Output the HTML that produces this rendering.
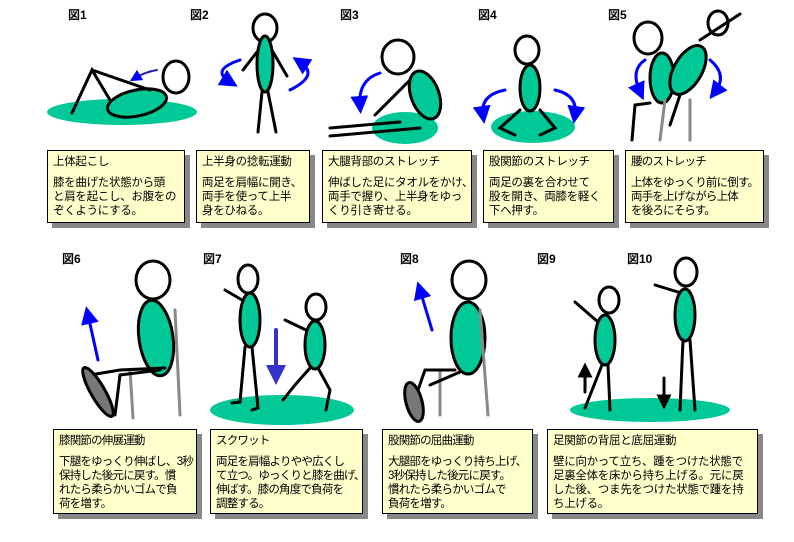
<!DOCTYPE html>
<html><head><meta charset="utf-8"><style>
body{margin:0;background:#fff;width:794px;height:542px;overflow:hidden;position:relative;font-family:"Liberation Sans","Noto Sans CJK JP",sans-serif}
.b{position:absolute;background:#ffffcc;border:1px solid #000;box-shadow:5px 5px 0 #888;font-size:11.5px;line-height:14px;color:#000;padding:4px 5px;box-sizing:border-box;white-space:nowrap;letter-spacing:-0.3px;overflow:hidden}
.b .t{margin-bottom:7px}
.n{letter-spacing:-0.8px}
.l{position:absolute;font-size:12px;font-weight:bold}
svg{position:absolute;left:0;top:0}
</style></head><body>
<svg width="794" height="542" viewBox="0 0 794 542" fill="none" stroke="#000" stroke-width="3" stroke-linecap="round">
<defs><marker id="a" markerWidth="6" markerHeight="6" refX="3" refY="3" orient="auto"><path d="M0,0L6,3L0,6z" fill="#00f" stroke="none"/></marker>
<marker id="a2" markerWidth="5" markerHeight="5" refX="2.5" refY="2.5" orient="auto"><path d="M0,0L5,2.5L0,5z" fill="#33c" stroke="none"/></marker>
<marker id="k" markerWidth="5" markerHeight="5" refX="2.5" refY="2.5" orient="auto"><path d="M0,0L5,2.5L0,5z" fill="#000" stroke="none"/></marker></defs>
<g fill="#00c896">
<ellipse cx="122" cy="112" rx="75" ry="13" stroke="none"/>
<ellipse cx="137" cy="103" rx="30" ry="13" transform="rotate(-12 137 103)"/>
<ellipse cx="176" cy="77" rx="13" ry="16" fill="#fff"/>
<path d="M72,113L92,70L110,100M92,70L150,90" fill="none"/>
<path d="M157,70Q145,72 135,78" stroke="#22a" stroke-width="2" marker-end="url(#a)" fill="none"/>
<ellipse cx="265" cy="28" rx="12" ry="14" fill="#fff"/>
<ellipse cx="265" cy="64" rx="8" ry="28"/>
<path d="M257,52L243,70M273,52L287,76M262,92L258,132M268,92L276,132" fill="none"/>
<path d="M240,60Q210,70 230,82" stroke="#00f" stroke-width="3" marker-end="url(#a)" fill="none"/>
<path d="M290,90Q320,75 300,62" stroke="#00f" stroke-width="3" marker-end="url(#a)" fill="none"/>
<ellipse cx="405" cy="128" rx="33" ry="16" stroke="none"/>
<ellipse cx="398" cy="57" rx="16" ry="17" fill="#fff"/>
<ellipse cx="425" cy="95" rx="14" ry="25" transform="rotate(-20 425 95)"/>
<path d="M330,128L400,122M330,136L420,128M410,80L375,115" fill="none"/>
<path d="M380,73Q358,80 360,105" stroke="#00f" stroke-width="3" marker-end="url(#a)" fill="none"/>
<ellipse cx="533" cy="127" rx="42" ry="16" stroke="none"/>
<ellipse cx="527" cy="50" rx="12" ry="14" fill="#fff"/>
<ellipse cx="530" cy="88" rx="10" ry="23"/>
<path d="M520,110L500,128L515,135M540,110L555,128L540,135" fill="none"/>
<path d="M505,90Q480,95 483,115" stroke="#00f" stroke-width="3" marker-end="url(#a)" fill="none"/>
<path d="M555,90Q578,95 575,115" stroke="#00f" stroke-width="3" marker-end="url(#a)" fill="none"/>
<ellipse cx="648" cy="38" rx="14" ry="16" fill="#fff"/>
<ellipse cx="718" cy="23" rx="10" ry="12" fill="#fff"/>
<ellipse cx="662" cy="78" rx="12" ry="25"/>
<ellipse cx="688" cy="70" rx="14" ry="27" transform="rotate(30 688 70)"/>
<path d="M650,103L635,105L632,140M700,40L740,14M680,95L670,125" fill="none"/>
<path d="M690,100L690,140M660,140L665,100" stroke="#888" fill="none"/>
<path d="M645,60Q630,70 640,92" stroke="#00f" stroke-width="3" marker-end="url(#a)" fill="none"/>
<path d="M710,60Q728,75 715,92" stroke="#00f" stroke-width="3" marker-end="url(#a)" fill="none"/>
<ellipse cx="153" cy="280" rx="17" ry="19" fill="#fff"/>
<ellipse cx="156" cy="338" rx="17" ry="38" transform="rotate(-8 156 338)"/>
<path d="M175,310L180,415M130,370L133,418" stroke="#888" fill="none"/>
<path d="M165,368L120,370L90,375M160,370L120,375L115,415" fill="none"/>
<ellipse cx="98" cy="392" rx="7" ry="28" transform="rotate(-30 98 392)" fill="#777"/>
<path d="M98,360L88,315" stroke="#00f" stroke-width="3" marker-end="url(#a)" fill="none"/>
<ellipse cx="282" cy="410" rx="72" ry="15" stroke="none"/>
<ellipse cx="248" cy="279" rx="10" ry="14" fill="#fff"/>
<ellipse cx="250" cy="320" rx="10" ry="27"/>
<ellipse cx="316" cy="307" rx="10" ry="13" fill="#fff"/>
<ellipse cx="315" cy="345" rx="10" ry="24"/>
<path d="M245,347L240,402L232,403M252,347L258,408L252,410M242,300L225,290M306,330L285,320M310,368L295,385L283,400M318,368L330,390L326,410" fill="none"/>
<path d="M276,330L276,375" stroke="#33c" stroke-width="4" marker-end="url(#a2)" fill="none"/>
<ellipse cx="469" cy="280" rx="17" ry="19" fill="#fff"/>
<ellipse cx="468" cy="338" rx="17" ry="36"/>
<path d="M480,310L488,415M440,370L440,415" stroke="#888" fill="none"/>
<path d="M455,370L425,370L418,390M460,372L430,385" fill="none"/>
<ellipse cx="414" cy="402" rx="8" ry="20" transform="rotate(-15 414 402)" fill="#777"/>
<path d="M432,330L420,290" stroke="#00f" stroke-width="3" marker-end="url(#a)" fill="none"/>
<ellipse cx="650" cy="410" rx="80" ry="12" stroke="none"/>
<ellipse cx="609" cy="300" rx="10" ry="13" fill="#fff"/>
<ellipse cx="605" cy="340" rx="10" ry="25"/>
<ellipse cx="686" cy="272" rx="11" ry="14" fill="#fff"/>
<ellipse cx="685" cy="315" rx="10" ry="26"/>
<path d="M598,322L575,302M602,365L585,408M608,365L610,410M678,292L655,285M683,340L680,410M690,340L695,410" fill="none"/>
<path d="M585,392L585,370" stroke="#000" stroke-width="3" marker-end="url(#k)" fill="none"/>
<path d="M664,378L664,402" stroke="#000" stroke-width="3" marker-end="url(#k)" fill="none"/>
</g>
</svg>
<div class="l" style="left:68px;top:6px">図1</div>
<div class="l" style="left:190px;top:6px">図2</div>
<div class="l" style="left:340px;top:6px">図3</div>
<div class="l" style="left:478px;top:6px">図4</div>
<div class="l" style="left:608px;top:6px">図5</div>
<div class="l" style="left:62px;top:250px">図6</div>
<div class="l" style="left:203px;top:250px">図7</div>
<div class="l" style="left:400px;top:250px">図8</div>
<div class="l" style="left:537px;top:250px">図9</div>
<div class="l" style="left:627px;top:250px">図10</div>
<div class="b" style="left:47px;top:150px;width:138px;height:73px"><div class="t">上体起こし</div>膝を曲げた状態から頭<br>と肩を起こし、お腹をの<br>ぞくようにする。</div>
<div class="b" style="left:196px;top:150px;width:114px;height:73px"><div class="t">上半身の捻転運動</div>両足を肩幅に開き、<br>両手を使って上半<br>身をひねる。</div>
<div class="b" style="left:322px;top:150px;width:150px;height:73px"><div class="t">大腿背部のストレッチ</div>伸ばした足にタオルをかけ、<br>両手で握り、上半身をゆっ<br>くり引き寄せる。</div>
<div class="b" style="left:483px;top:150px;width:131px;height:73px"><div class="t">股関節のストレッチ</div>両足の裏を合わせて<br>股を開き、両膝を軽く<br>下へ押す。</div>
<div class="b n" style="left:625px;top:150px;width:139px;height:73px"><div class="t">腰のストレッチ</div>上体をゆっくり前に倒す。<br>両手を上げながら上体<br>を後ろにそらす。</div>
<div class="b n" style="left:53px;top:429px;width:144px;height:85px"><div class="t">膝関節の伸展運動</div>下腿をゆっくり伸ばし、3秒<br>保持した後元に戻す。慣<br>れたら柔らかいゴムで負<br>荷を増す。</div>
<div class="b n" style="left:210px;top:429px;width:153px;height:85px"><div class="t">スクワット</div>両足を肩幅よりやや広くし<br>て立つ。ゆっくりと膝を曲げ、<br>伸ばす。膝の角度で負荷を<br>調整する。</div>
<div class="b n" style="left:382px;top:429px;width:151px;height:85px"><div class="t">股関節の屈曲運動</div>大腿部をゆっくり持ち上げ、<br>3秒保持した後元に戻す。<br>慣れたら柔らかいゴムで<br>負荷を増す。</div>
<div class="b" style="left:547px;top:429px;width:211px;height:85px"><div class="t">足関節の背屈と底屈運動</div>壁に向かって立ち、踵をつけた状態で<br>足裏全体を床から持ち上げる。元に戻<br>した後、つま先をつけた状態で踵を持<br>ち上げる。</div>
</body></html>
